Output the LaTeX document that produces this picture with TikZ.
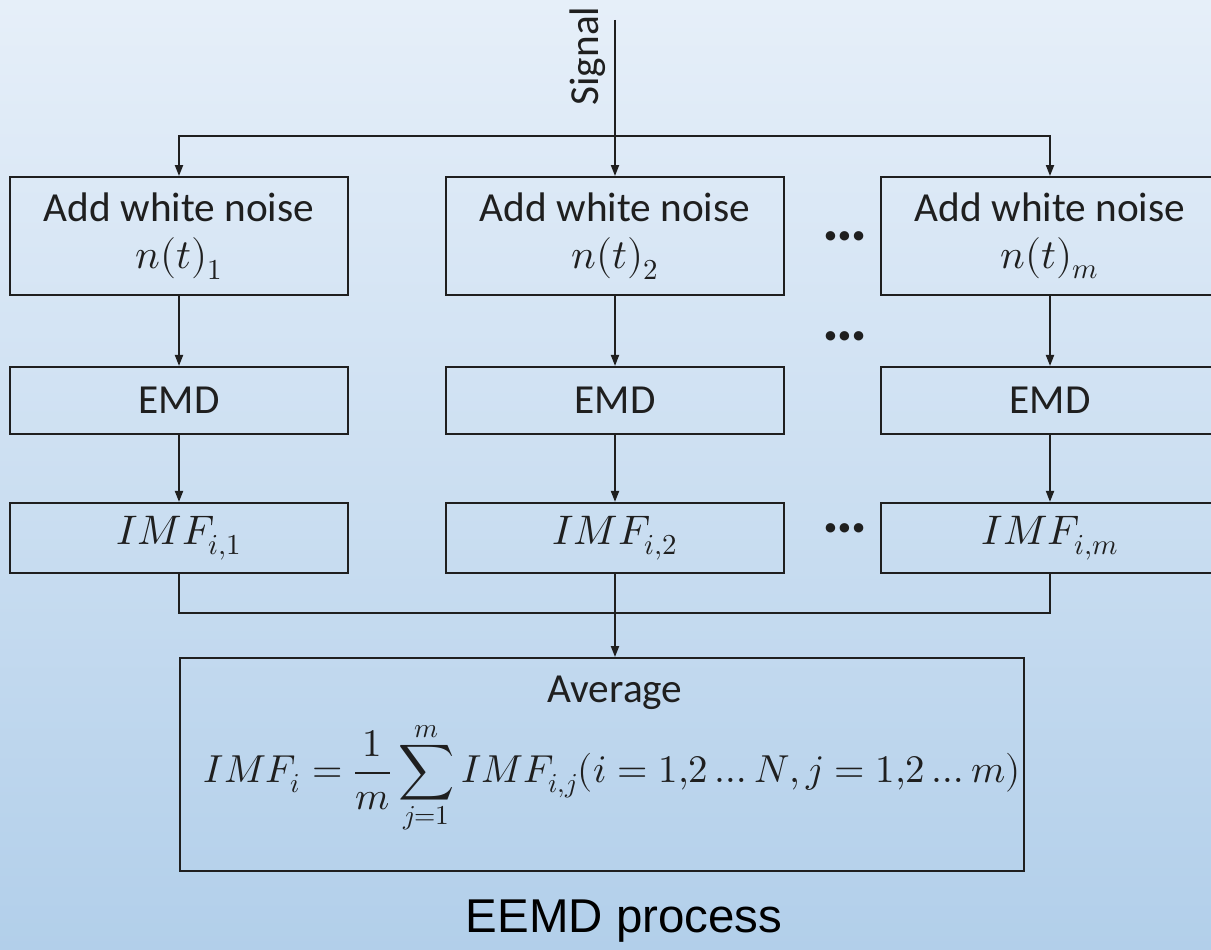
\documentclass[tikz,border=0pt]{standalone}
\usepackage{fontspec}
\usepackage{unicode-math}
\setmainfont{Carlito}
\setmathfont{Latin Modern Math}
\newfontfamily\captionfont{Liberation Sans}
\usetikzlibrary{arrows.meta,positioning}
\definecolor{bgtop}{HTML}{E6EFF9}
\definecolor{bgbottom}{HTML}{B2CFEA}
\definecolor{linegray}{HTML}{1F1F1F}

\begin{document}
\begin{tikzpicture}[
    x=0.2mm, y=-0.2mm,
    box/.style = {draw, line width=1.1pt, minimum width=67.6mm, inner sep=0pt,
                  font=\fontsize{23.5}{27}\selectfont},
    addbox/.style = {box, minimum height=23.6mm, align=center},
    emdbox/.style = {box, minimum height=13.4mm},
    imfbox/.style = {box, minimum height=14mm},
    dots/.style = {font=\fontsize{36}{40}\selectfont\bfseries},
    >={Triangle[length=2.2mm,width=1.6mm]}, color=linegray, line width=1.1pt
]
% Background
\shade[top color=bgtop, bottom color=bgbottom] (0,0) rectangle (1211,950);
\useasboundingbox (0,0) rectangle (1211,950);

% Input
\coordinate (sigtop) at (615,20);
\coordinate (split) at (615,136);
\node[rotate=90, font=\fontsize{23.5}{27}\selectfont] (signal) at (588,56) {Signal};

% Row 1
\node[addbox] (add1) at (179,236)  {Add white noise\\$n(t)_1$};
\node[addbox] (add2) at (615,236)  {Add white noise\\$n(t)_2$};
\node[addbox] (add3) at (1050,236) {Add white noise\\$n(t)_m$};

% Row 2
\node[emdbox] (emd1) [below=14mm of add1] {EMD};
\node[emdbox] (emd2) [below=14mm of add2] {EMD};
\node[emdbox] (emd3) [below=14mm of add3] {EMD};

% Row 3
\node[imfbox] (imf1) [below=13.4mm of emd1] {$IMF_{i,1}$};
\node[imfbox] (imf2) [below=13.4mm of emd2] {$IMF_{i,2}$};
\node[imfbox] (imf3) [below=13.4mm of emd3] {$IMF_{i,m}$};

% Dots
\node[dots] (dots1) at (845,236) {…};
\node[dots] (dots2) at (845,336) {…};
\node[dots] (dots3) at (845,528) {…};

% Average
\coordinate (merge) at (615,613);
\node[draw, line width=1.1pt, minimum width=168.8mm, minimum height=42.6mm] (avg) at (602,764.5) {};
\node[font=\fontsize{23.5}{27}\selectfont] (avgtitle) at (615,693) {Average};
\node[font=\fontsize{22.2}{26}\selectfont] (avgeq) at (612,778)
    {$\displaystyle IMF_i=\frac{1}{m}\sum_{j=1}^{m} IMF_{i,j}(i=1{,}2\ldots N,j=1{,}2\ldots m)$};

% Caption
\node[font=\captionfont\fontsize{27}{31}\selectfont, text=black] (caption) at (624,921) {EEMD process};

% Edges
\draw[->] (sigtop) -- (add2.north);
\draw[->] (split) -| (add1.north);
\draw[->] (split) -| (add3.north);
\draw[->] (add1) -- (emd1);
\draw[->] (add2) -- (emd2);
\draw[->] (add3) -- (emd3);
\draw[->] (emd1) -- (imf1);
\draw[->] (emd2) -- (imf2);
\draw[->] (emd3) -- (imf3);
\draw (imf1.south) |- (merge);
\draw (imf3.south) |- (merge);
\draw (imf2.south) -- (merge);
\draw[->] (merge) -- (merge |- avg.north);

\end{tikzpicture}
\end{document}
